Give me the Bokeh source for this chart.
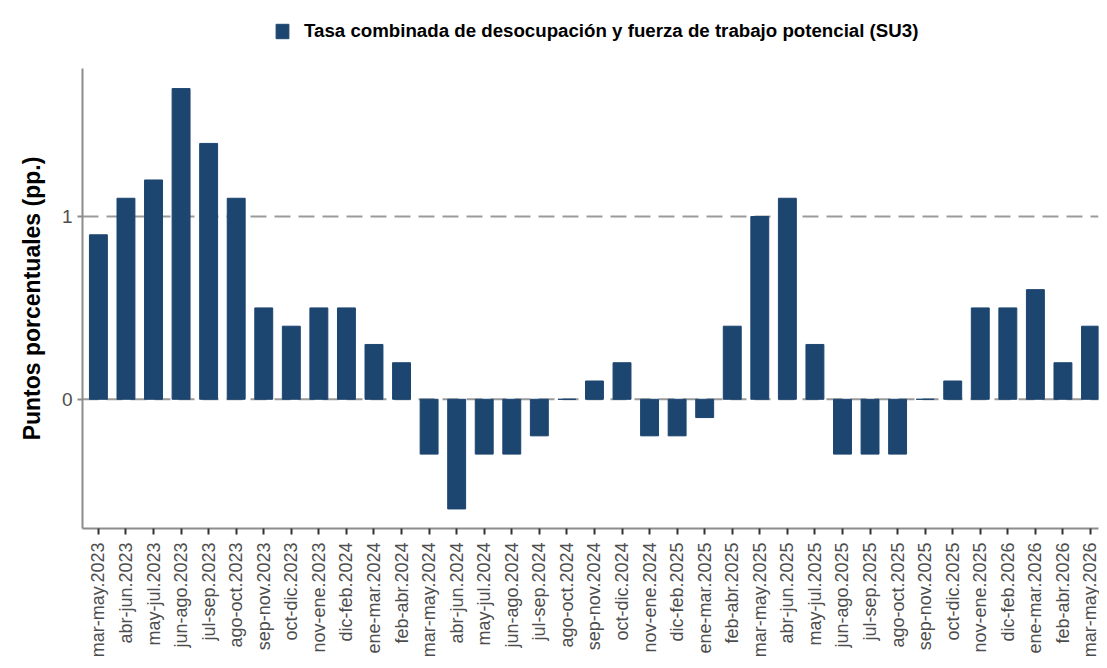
import math
from bokeh.plotting import figure
from bokeh.layouts import column
from bokeh.models import Range1d, FixedTicker, Span, Legend, LegendItem, ColumnDataSource
from bokeh.embed import file_html
from bokeh.resources import INLINE

periods = [
    "mar-may.2023", "abr-jun.2023", "may-jul.2023", "jun-ago.2023", "jul-sep.2023",
    "ago-oct.2023", "sep-nov.2023", "oct-dic.2023", "nov-ene.2023", "dic-feb.2024",
    "ene-mar.2024", "feb-abr.2024", "mar-may.2024", "abr-jun.2024", "may-jul.2024",
    "jun-ago.2024", "jul-sep.2024", "ago-oct.2024", "sep-nov.2024", "oct-dic.2024",
    "nov-ene.2024", "dic-feb.2025", "ene-mar.2025", "feb-abr.2025", "mar-may.2025",
    "abr-jun.2025", "may-jul.2025", "jun-ago.2025", "jul-sep.2025", "ago-oct.2025",
    "sep-nov.2025", "oct-dic.2025", "nov-ene.2025", "dic-feb.2026", "ene-mar.2026",
    "feb-abr.2026", "mar-may.2026",
]
su3 = [
    0.9, 1.1, 1.2, 1.7, 1.4,
    1.1, 0.5, 0.4, 0.5, 0.5,
    0.3, 0.2, -0.3, -0.6, -0.3,
    -0.3, -0.2, 0.0, 0.1, 0.2,
    -0.2, -0.2, -0.1, 0.4, 1.0,
    1.1, 0.3, -0.3, -0.3, -0.3,
    0.0, 0.1, 0.5, 0.5, 0.6,
    0.2, 0.4,
]
ref_lines = [0, 1]
series_name = "Tasa combinada de desocupación y fuerza de trabajo potencial (SU3)"
y_label = "Puntos porcentuales (pp.)"

BAR = "#1c4570"
W = 1099
HEAD_H = 68
MAIN_H = 592

idx = list(range(len(periods)))
src = ColumnDataSource(dict(x=idx, y=su3, label=periods))

# ---- header strip holding the legend (its bars lie outside its view) ----
head = figure(
    width=W, height=HEAD_H, x_range=Range1d(-0.577, len(periods) - 0.71),
    y_range=Range1d(50, 51),
    x_axis_location=None, y_axis_location=None,
    output_backend="svg", toolbar_location=None,
    min_border=0,
)
head.outline_line_color = None
head.xgrid.visible = False
head.ygrid.visible = False
head.background_fill_color = "white"
head.border_fill_color = "white"
head_r = head.vbar(x="x", top="y", bottom=0, width=0.65, source=src,
                   fill_color=BAR, line_color=BAR)
legend = Legend(
    items=[LegendItem(label=series_name, renderers=[head_r])],
    location=(192, 26),
    orientation="horizontal",
    padding=0, margin=0, spacing=0,
    glyph_width=16, glyph_height=18, label_height=18,
    label_standoff=14,
    label_text_font="Liberation Sans",
    label_text_font_style="bold",
    label_text_font_size="18.7px",
    label_text_color="black",
    border_line_alpha=0, background_fill_alpha=0,
)
head.add_layout(legend, "center")

# ---- main chart ----
p = figure(
    width=W, height=MAIN_H,
    x_range=head.x_range,
    y_range=Range1d(-0.707, 1.81),
    output_backend="svg", toolbar_location=None,
    min_border_left=82, min_border_right=1, min_border_top=0, min_border_bottom=129,
)
p.outline_line_color = None
p.xgrid.visible = False
p.ygrid.visible = False
p.background_fill_color = "white"
p.border_fill_color = "white"

for v in ref_lines:
    p.add_layout(Span(location=v, dimension="width", line_color="#9a9a9a",
                      line_width=2, line_dash="16 8", level="underlay"))

r = p.vbar(x="x", top="y", bottom=0, width=0.65, source=src,
           fill_color=BAR, line_color=BAR, line_width=1)

p.xaxis.ticker = FixedTicker(ticks=idx)
p.xaxis.major_label_overrides = {i: lab for i, lab in enumerate(periods)}
p.xaxis.major_label_orientation = math.pi / 2
p.xaxis.major_label_text_font = "Liberation Sans"
p.xaxis.major_label_text_font_size = "18px"
p.xaxis.major_label_text_color = "#4d4d4d"
p.xaxis.major_label_standoff = 8
p.xaxis.major_tick_out = 6
p.xaxis.major_tick_in = 0
p.xaxis.major_tick_line_color = "#333333"
p.xaxis.major_tick_line_width = 2
p.xaxis.minor_tick_line_color = None
p.xaxis.axis_line_color = "#8c8c8c"
p.xaxis.axis_line_width = 2

p.yaxis.ticker = FixedTicker(ticks=ref_lines)
p.yaxis.major_label_text_font = "Liberation Sans"
p.yaxis.major_label_text_font_size = "19px"
p.yaxis.major_label_text_color = "#4d4d4d"
p.yaxis.major_label_standoff = 5
p.yaxis.major_tick_out = 5
p.yaxis.major_tick_in = 0
p.yaxis.major_tick_line_color = "#8c8c8c"
p.yaxis.major_tick_line_width = 2
p.yaxis.minor_tick_line_color = None
p.yaxis.axis_line_color = "#8c8c8c"
p.yaxis.axis_line_width = 2
p.yaxis.axis_label = y_label
p.yaxis.axis_label_text_font = "Liberation Sans"
p.yaxis.axis_label_text_font_style = "bold"
p.yaxis.axis_label_text_font_size = "23px"
p.yaxis.axis_label_text_color = "black"
p.yaxis.axis_label_standoff = 14

layout = column(head, p, spacing=0)
open("out.html", "w").write(file_html(layout, INLINE))
